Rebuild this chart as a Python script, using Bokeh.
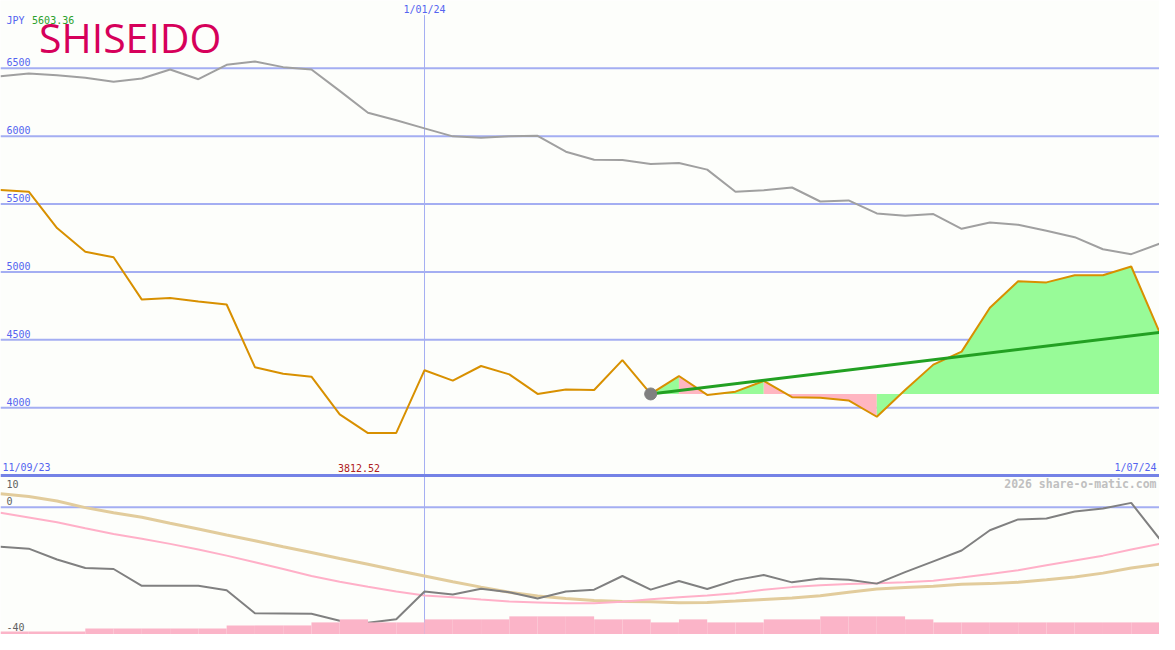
from bokeh.plotting import figure
from bokeh.models import Range1d, Label
from bokeh.embed import file_html
from bokeh.resources import INLINE

# ---------------- data ----------------
currency = "JPY"
start_label = "11/09/23"
end_label = "1/07/24"
mark_label = "1/01/24"
mark_index = 15
company = "SHISEIDO"
credit = "2026 share-o-matic.com"

price = [5603.36, 5591, 5323, 5148, 5108, 4796, 4808, 4782, 4760, 4298,
         4250, 4228, 3950, 3812.52, 3814, 4276, 4199, 4307, 4245, 4101,
         4134, 4130, 4350, 4101, 4233, 4094, 4118, 4197, 4077, 4073,
         4053, 3933, 4130, 4317, 4413, 4736, 4932, 4923, 4975, 4975,
         5040, 4556]

ref_line = [6442, 6463, 6449, 6430, 6401, 6425, 6492, 6420, 6526, 6550,
            6509, 6492, 6334, 6173, 6118, 6058, 5999, 5989, 5999, 6003,
            5886, 5826, 5824, 5795, 5802, 5754, 5591, 5601, 5622, 5519,
            5527, 5431, 5414, 5426, 5318, 5364, 5347, 5304, 5256, 5167,
            5131, 5208]

trend_start_index = 23
trend_end_value = 4554

main_ticks = [4000, 4500, 5000, 5500, 6000, 6500]

osc = [-12.4, -13.0, -16.4, -19.1, -19.4, -24.7, -24.7, -24.7, -26.1, -33.3,
       -33.4, -33.5, -35.7, -36.3, -35.2, -26.5, -27.4, -25.6, -26.7, -28.7,
       -26.5, -25.9, -21.6, -25.9, -23.2, -25.7, -22.9, -21.3, -23.6, -22.4,
       -22.8, -24.0, -20.4, -17.0, -13.6, -7.2, -3.8, -3.5, -1.3, -0.4,
       1.4, -9.9]

osc_fast = [-1.7, -3.2, -4.7, -6.6, -8.4, -9.9, -11.5, -13.3, -15.2, -17.3,
            -19.4, -21.6, -23.4, -25.0, -26.5, -27.7, -28.3, -29.0, -29.6, -29.9,
            -30.2, -30.2, -29.7, -28.9, -28.3, -27.7, -27.0, -25.9, -25.1, -24.5,
            -24.1, -23.9, -23.6, -23.1, -22.1, -21.0, -19.8, -18.2, -16.7, -15.2,
            -13.3, -11.5]

osc_slow = [4.3, 3.4, 2.0, -0.1, -1.7, -3.1, -5.0, -6.8, -8.7, -10.5,
            -12.4, -14.2, -16.1, -17.9, -19.8, -21.6, -23.4, -25.1, -26.7, -27.9,
            -28.7, -29.3, -29.6, -29.7, -30.0, -29.9, -29.5, -29.0, -28.5, -27.8,
            -26.7, -25.7, -25.2, -24.8, -24.2, -24.0, -23.6, -22.8, -21.9, -20.7,
            -19.1, -17.9]

lower_ticks = [10, 0, -40]

volume = [1, 1, 1, 2, 2, 2, 2, 2, 3, 3,
          3, 4, 5, 4, 4, 5, 5, 5, 6, 6,
          6, 5, 5, 4, 5, 4, 4, 5, 5, 6,
          6, 6, 5, 4, 4, 4, 4, 4, 4, 4,
          4]

# ---------------- layout / style ----------------
W, H = 1159, 634
OW, OH = 1175, 650
SX, SY = W / OW, H / OH
BG = "#fdfefb"
GRID = "#a4aef2"
SEP = "#7482e6"
BLUE_TXT = "#5464f0"
MONO = "DejaVu Sans Mono"
UP, DOWN = "#98fb98", "#ffb6c1"

SEP_PX = 487
MAIN_TOP, MAIN_SEP = 7000, 3500
per_px = (MAIN_TOP - MAIN_SEP) / SEP_PX
main_bottom = MAIN_TOP - OH * per_px
LOW_MIN, LOW_MAX = -40, 10
low_per_px = (LOW_MAX - LOW_MIN) / (OH - SEP_PX)
low_top = LOW_MAX + SEP_PX * low_per_px
VOL_PX = 3.1
vol_top = OH / VOL_PX

n = len(price)
xs = list(range(n))

p = figure(width=W, height=H, x_range=Range1d(0, n - 1),
           y_range=Range1d(main_bottom, MAIN_TOP),
           output_backend="svg", toolbar_location=None,
           x_axis_location=None, y_axis_location=None,
           min_border=0, min_border_left=0, min_border_right=0,
           min_border_top=0, min_border_bottom=0,
           background_fill_color=BG, border_fill_color=BG,
           outline_line_color=None)
p.grid.visible = False
p.extra_y_ranges = {"lower": Range1d(LOW_MIN, low_top),
                    "vol": Range1d(0, vol_top)}


def scr(X, Y):
    return X * SX, H - Y * SY


def val_at(Y):
    return MAIN_TOP - Y * per_px


# gridlines
p.segment(x0=[0] * len(main_ticks), x1=[n - 1] * len(main_ticks),
          y0=main_ticks, y1=main_ticks, line_color=GRID, line_width=2)
p.segment(x0=[0], x1=[n - 1], y0=[0], y1=[0], line_color=GRID, line_width=2,
          y_range_name="lower")
# vertical date marker
p.segment(x0=[mark_index], x1=[mark_index], y0=[main_bottom], y1=[val_at(15)],
          line_color=GRID, line_width=1)

# fills between price and baseline after the reference point (merged runs)
base = price[trend_start_index]
seg_cols = [UP if price[i + 1] > base else DOWN
            for i in range(trend_start_index, n - 1)]
pxs, pys, pcols = [], [], []
i = trend_start_index
while i < n - 1:
    col = seg_cols[i - trend_start_index]
    j = i
    while j + 1 < n - 1 and seg_cols[j + 1 - trend_start_index] == col:
        j += 1
    pts = list(range(i, j + 2))
    pxs.append([i] + pts + [j + 1])
    pys.append([base] + [price[k] for k in pts] + [base])
    pcols.append(col)
    i = j + 1
p.patches(pxs, pys, fill_color=pcols, line_color=None)

# reference (gray) line and price line
p.line(xs, ref_line, line_color="#a0a0a0", line_width=2)
p.line(xs, price, line_color="#d89000", line_width=2)

# trend line
p.line([trend_start_index, n - 1], [base, trend_end_value],
       line_color="#22a022", line_width=3)
p.scatter([trend_start_index], [base], size=12, fill_color="#808080",
          line_color="#808080")

# panel separator
p.segment(x0=[0], x1=[n - 1], y0=[MAIN_SEP], y1=[MAIN_SEP], line_color=SEP,
          line_width=3)

# lower panel
p.line(xs, osc_slow, line_color="#e2cc9c", line_width=3, y_range_name="lower")
p.line(xs, osc_fast, line_color="#ffb0c8", line_width=2, y_range_name="lower")
p.line(xs, osc, line_color="#808080", line_width=2, y_range_name="lower")
p.quad(left=list(range(len(volume))), right=list(range(1, len(volume) + 1)),
       bottom=0, top=volume, fill_color="#fbb4c8", line_color=None,
       y_range_name="vol")

# ---------------- texts ----------------
def add_text(text, X, Y, color, size="10px", align="left", font=MONO,
             baseline="middle", style="normal"):
    x, y = scr(X, Y)
    p.add_layout(Label(x=x, y=y, x_units="screen", y_units="screen", text=text,
                       text_font=font, text_font_size=size, text_color=color,
                       text_align=align, text_baseline=baseline,
                       text_font_style=style))


for t in main_ticks:
    p.add_layout(Label(x=6 * SX, y=t, x_units="screen", y_units="data",
                       text=str(t), text_font=MONO, text_font_size="10px",
                       text_color=BLUE_TXT, text_baseline="bottom", y_offset=2))

for t in lower_ticks:
    if t == LOW_MAX:
        yv, bl, off = t, "top", -4
    else:
        yv, bl, off = t, "bottom", 2 if t == 0 else 4
    p.add_layout(Label(x=6 * SX, y=yv, x_units="screen", y_units="data",
                       y_range_name="lower", text=str(t), text_font=MONO,
                       text_font_size="10px", text_color="#606060",
                       text_baseline=bl, y_offset=off))

add_text(currency, 6, 20, BLUE_TXT)
add_text(f"{max(price):.2f}", 32, 20, "#2ca02c")
add_text(company, 39, 66, "#d6005a", size="41px", font="Open Sans",
         baseline="bottom")

p.add_layout(Label(x=mark_index, y=H - 9 * SY, x_units="data", y_units="screen",
                   text=mark_label, text_font=MONO, text_font_size="10px",
                   text_color=BLUE_TXT, text_align="center",
                   text_baseline="middle"))
add_text(start_label, 2, 479, BLUE_TXT)
add_text(end_label, 1172, 479, BLUE_TXT, align="right")
imin = price.index(min(price))
p.add_layout(Label(x=imin, y=H - 479 * SY, x_units="data", y_units="screen",
                   text=f"{min(price):.2f}", text_font=MONO,
                   text_font_size="10px", text_color="#b02020",
                   text_align="center", text_baseline="middle", x_offset=-9))
add_text(credit, 1172, 496, "#c0c0c0", size="11.5px", align="right",
         style="bold")

open("out.html", "w").write(file_html(p, INLINE))
